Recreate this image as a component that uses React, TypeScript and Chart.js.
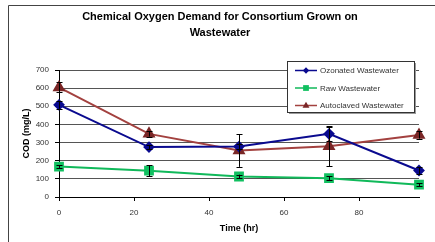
import React, { useEffect, useRef } from "react";
import { Chart, registerables } from "chart.js";

Chart.register(...registerables);

const hours = [0, 24, 48, 72, 96];
const ozonated = [508, 275, 278, 348, 146];
const ozonatedErr = [22, 12, 15, 40, 20];
const raw = [168, 145, 113, 104, 68];
const rawErr = [8, 30, 10, 10, 8];
const autoclaved = [604, 348, 256, 280, 342];
const autoclavedErr = [28, 15, 90, 110, 20];
const seriesLabels = ["Ozonated Wastewater", "Raw Wastewater", "Autoclaved Wastewater"];
const titleLines = ["Chemical Oxygen Demand for Consortium Grown on", "Wastewater"];
const xTitle = "Time (hr)";
const yTitle = "COD (mg/L)";

const FONT = "Arial, 'Liberation Sans', sans-serif";

const errorBarsPlugin = {
  id: "errorBars",
  afterDatasetsDraw(chart: any) {
    const { ctx, scales } = chart;
    const x = scales.x;
    const y = scales.y;
    ctx.save();
    ctx.strokeStyle = "#000";
    ctx.lineWidth = 1;
    chart.data.datasets.forEach((ds: any) => {
      const errs: number[] = ds.errors || [];
      ds.data.forEach((p: any, i: number) => {
        const e = errs[i];
        if (!e) return;
        const px = Math.round(x.getPixelForValue(p.x)) + 0.5;
        const top = y.getPixelForValue(p.y + e);
        const bot = y.getPixelForValue(p.y - e);
        ctx.beginPath();
        ctx.moveTo(px, top);
        ctx.lineTo(px, bot);
        ctx.moveTo(px - 3, Math.round(top) + 0.5);
        ctx.lineTo(px + 3, Math.round(top) + 0.5);
        ctx.moveTo(px - 3, Math.round(bot) + 0.5);
        ctx.lineTo(px + 3, Math.round(bot) + 0.5);
        ctx.stroke();
      });
    });
    ctx.restore();
  },
};

const boxLegendPlugin = {
  id: "boxLegend",
  afterDraw(chart: any) {
    const { ctx } = chart;
    const bx = 287.5, by = 61.5, bw = 127, bh = 51;
    ctx.save();
    ctx.fillStyle = "#999";
    ctx.fillRect(bx + 1.5, by + 1.5, bw, bh);
    ctx.fillStyle = "#fff";
    ctx.fillRect(bx, by, bw, bh);
    ctx.strokeStyle = "#333";
    ctx.lineWidth = 1;
    ctx.strokeRect(bx, by, bw, bh);
    const rows = [70.5, 88, 105.5];
    chart.data.datasets.forEach((ds: any, i: number) => {
      const yy = rows[i];
      ctx.strokeStyle = ds.borderColor;
      ctx.lineWidth = 1.5;
      ctx.beginPath();
      ctx.moveTo(295, yy);
      ctx.lineTo(317, yy);
      ctx.stroke();
      ctx.fillStyle = ds.pointBackgroundColor;
      const r = ds.pointRadius * 0.7;
      ctx.beginPath();
      if (ds.pointStyle === "rectRot") {
        ctx.moveTo(306 - r, yy);
        ctx.lineTo(306, yy - r);
        ctx.lineTo(306 + r, yy);
        ctx.lineTo(306, yy + r);
      } else if (ds.pointStyle === "rect") {
        const s = r * 0.75;
        ctx.rect(306 - s, yy - s, 2 * s, 2 * s);
      } else {
        ctx.moveTo(306, yy - r);
        ctx.lineTo(306 + r * 0.9, yy + r * 0.6);
        ctx.lineTo(306 - r * 0.9, yy + r * 0.6);
      }
      ctx.closePath();
      ctx.fill();
      ctx.fillStyle = "#333";
      ctx.font = `8px ${FONT}`;
      ctx.textBaseline = "middle";
      ctx.textAlign = "left";
      ctx.fillText(ds.label, 320, yy + 0.5);
    });
    ctx.restore();
  },
};

const framePlugin = {
  id: "frame",
  beforeDraw(chart: any) {
    const { ctx } = chart;
    ctx.save();
    ctx.fillStyle = "#fff";
    ctx.fillRect(0, 0, chart.width, chart.height);
    ctx.strokeStyle = "#444";
    ctx.lineWidth = 1;
    ctx.beginPath();
    ctx.moveTo(8.5, 242);
    ctx.lineTo(8.5, 5.5);
    ctx.lineTo(440, 5.5);
    ctx.stroke();
    ctx.restore();
  },
};

export default function App() {
  const ref = useRef<HTMLCanvasElement>(null);
  useEffect(() => {
    document.body.style.margin = "0";
    const mk = (vals: number[]) => hours.map((h, i) => ({ x: h, y: vals[i] }));
    const chart = new Chart(ref.current!, {
      type: "line",
      data: {
        datasets: [
          {
            label: seriesLabels[0],
            data: mk(ozonated),
            errors: ozonatedErr,
            borderColor: "#0a0a8f",
            backgroundColor: "#0a0a8f",
            pointBackgroundColor: "#0a0a8f",
            pointBorderColor: "#0a0a8f",
            pointStyle: "rectRot",
            pointRadius: 4.5,
            borderWidth: 2,
            clip: false,
          } as any,
          {
            label: seriesLabels[1],
            data: mk(raw),
            errors: rawErr,
            borderColor: "#10b95a",
            backgroundColor: "#10c060",
            pointBackgroundColor: "#10c060",
            pointBorderColor: "#10c060",
            pointStyle: "rect",
            pointRadius: 5.5,
            borderWidth: 2,
            clip: false,
          } as any,
          {
            label: seriesLabels[2],
            data: mk(autoclaved),
            errors: autoclavedErr,
            borderColor: "#a3413f",
            backgroundColor: "#7a2626",
            pointBackgroundColor: "#7a2626",
            pointBorderColor: "#7a2626",
            pointStyle: "triangle",
            pointRadius: 5.5,
            borderWidth: 2,
            clip: false,
          } as any,
        ],
      },
      options: {
        animation: false,
        responsive: false,
        layout: { padding: { left: 21, right: 16, top: 0, bottom: 0 } },
        plugins: {
          legend: { display: false },
          tooltip: { enabled: false },
          title: {
            display: true,
            text: titleLines,
            color: "#000",
            font: { family: FONT, size: 11, weight: "bold", lineHeight: "16px" } as any,
            padding: { top: 9, bottom: 29 },
          },
        },
        scales: {
          x: {
            type: "linear",
            min: 0,
            max: 96,
            ticks: { stepSize: 20, color: "#333", padding: 7, font: { family: FONT, size: 8 } },
            afterBuildTicks: (s: any) => {
              s.ticks = s.ticks.filter((t: any) => t.value % 20 === 0);
            },
            afterFit: (s: any) => {
              s.height = 45;
            },
            grid: { drawOnChartArea: false, drawTicks: true, tickLength: 4, color: "#000" },
            border: { display: true, color: "#000", width: 1 },
            title: {
              display: true,
              text: xTitle,
              color: "#000",
              font: { family: FONT, size: 9, weight: "bold" },
              padding: { top: 0, bottom: 8 },
            },
          },
          y: {
            min: 0,
            max: 700,
            ticks: { stepSize: 100, color: "#333", padding: 6, font: { family: FONT, size: 8 } },
            afterFit: (s: any) => {
              s.width = 38;
            },
            grid: { color: "#555", tickColor: "#000", tickLength: 4, lineWidth: 1 },
            border: { display: true, color: "#000", width: 1 },
            title: {
              display: true,
              text: yTitle,
              color: "#000",
              font: { family: FONT, size: 9, weight: "bold" },
              padding: { top: 0, bottom: 0 },
            },
          },
        },
      } as any,
      plugins: [framePlugin, errorBarsPlugin, boxLegendPlugin],
    });
    return () => chart.destroy();
  }, []);
  return (
    <div style={{ position: "fixed", left: 0, top: 0, width: 435, height: 242 }}>
      <canvas ref={ref} width={435} height={242} style={{ width: 435, height: 242, display: "block" }} />
    </div>
  );
}
